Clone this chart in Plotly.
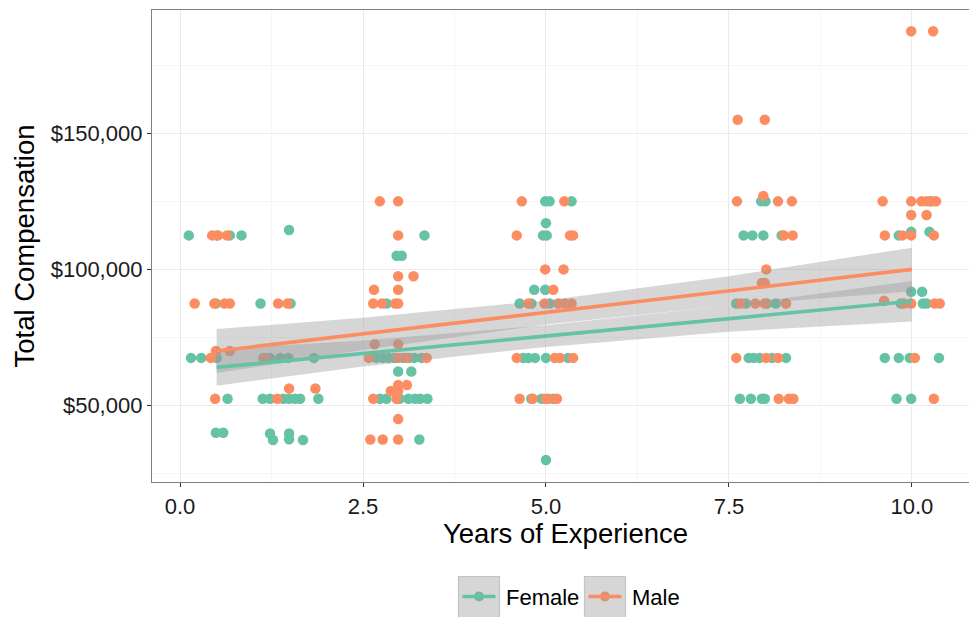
import plotly.graph_objects as go

# Jittered observations: years of experience vs. total compensation
female_x = [0.12, 0.50, 0.68, 0.84, 0.49, 0.15, 0.29, 0.50, 0.65, 0.49, 0.59,
            1.49, 1.10, 1.51, 1.14, 1.23, 1.37, 1.48, 1.83,
            1.13, 1.23, 1.41, 1.49, 1.57, 1.64, 1.89, 1.23, 1.27, 1.49, 1.49, 1.68,
            3.34, 2.96, 3.03, 2.82, 2.68, 2.77, 2.85, 2.93, 3.05, 3.13, 3.20, 3.30,
            2.98, 3.16, 2.73, 2.82, 3.00, 3.12, 3.21, 3.28, 3.38, 3.27,
            4.99, 5.05, 5.35, 5.00, 4.96, 5.01, 4.84, 4.99, 4.64, 4.80, 5.05,
            4.69, 4.76, 4.85, 5.00, 5.30, 4.80, 4.94, 5.10, 5.00,
            7.94, 8.00, 7.70, 7.82, 7.97, 8.22, 7.60, 7.73, 8.02, 8.14,
            7.77, 7.84, 7.92, 8.09, 8.28, 7.65, 7.80, 7.95, 7.99,
            10.25, 9.82, 9.99, 10.24, 9.99, 10.14, 9.85, 10.15, 10.20,
            9.63, 9.82, 9.97, 10.37, 9.79, 9.99]
female_y = [112500, 112500, 112500, 112500, 87500, 67500, 67500, 67500, 52500, 40000, 40000,
            114500, 87500, 87500, 67500, 67500, 67500, 67500, 67500,
            52500, 52500, 52500, 52500, 52500, 52500, 52500, 39700, 37300, 39700, 37600, 37300,
            112500, 105000, 105000, 87500, 67500, 67500, 67500, 67500, 67500, 67500, 67500, 67500,
            62500, 62500, 52500, 52500, 52500, 52500, 52500, 52500, 52500, 37500,
            125000, 125000, 125000, 117000, 112500, 112500, 92500, 92500, 87500, 87500, 87500,
            67500, 67500, 67500, 67500, 67500, 52500, 52500, 52500, 30000,
            125000, 125000, 112500, 112500, 112500, 112500, 87500, 87500, 87500, 87500,
            67500, 67500, 67500, 67500, 67500, 52500, 52500, 52500, 52500,
            125000, 112500, 113800, 113800, 91800, 91800, 87500, 87500, 87500,
            67500, 67500, 67500, 67500, 52500, 52500]

male_x = [0.44, 0.52, 0.64, 0.20, 0.47, 0.61, 0.68, 0.49, 0.68, 0.42, 0.48,
          1.34, 1.47, 1.16, 1.49, 1.85, 1.33,
          2.73, 2.98, 2.98, 2.98, 3.19, 2.65, 2.98, 2.64, 2.76, 2.94, 2.98,
          2.66, 2.98, 2.58, 2.98, 3.10, 3.37, 2.98, 3.10, 2.88, 2.98,
          2.64, 2.96, 2.98, 2.60, 2.77, 2.98,
          4.67, 5.25, 4.60, 5.33, 5.37, 4.99, 5.24, 5.10,
          4.76, 4.98, 5.17, 5.26, 5.35, 4.60, 5.12, 5.19, 5.37,
          4.64, 4.82, 5.00, 5.03, 5.15,
          7.62, 7.99, 7.61, 7.97, 8.17, 8.36, 8.25, 8.37, 8.01, 7.95, 7.99,
          7.66, 7.86, 7.99, 8.28, 7.60, 8.01, 8.17, 8.18, 8.32, 8.38,
          9.99, 10.29, 9.60, 9.99, 10.13, 10.20, 10.27, 10.33, 9.99, 10.20,
          9.63, 9.87, 9.99, 10.30, 9.62, 9.89, 9.99, 10.31, 10.38, 10.04, 10.30]
male_y = [112500, 112500, 112500, 87500, 87500, 87500, 87500, 70000, 70000, 67500, 52500,
          87500, 87500, 67500, 56250, 56250, 52500,
          125000, 125000, 112500, 97500, 97500, 92500, 92500, 87500, 87500, 87500, 87500,
          72500, 72500, 67500, 67500, 67500, 67500, 57500, 57500, 55300, 55300,
          52500, 52500, 45000, 37500, 37500, 37500,
          125000, 125000, 112500, 112500, 112500, 100000, 100000, 92500,
          87500, 87500, 87500, 87500, 87500, 67500, 67500, 67500, 67500,
          52500, 52500, 52500, 52500, 52500,
          155000, 155000, 125000, 127000, 125000, 125000, 112500, 112500, 100000, 95000, 95000,
          87500, 87500, 87500, 87500, 67500, 67500, 67500, 52500, 52500, 52500,
          187500, 187500, 125000, 125000, 125000, 125000, 125000, 125000, 120000, 120000,
          112500, 112500, 112500, 112500, 88500, 87500, 87500, 87500, 87500, 67500, 52500]

# Linear fits with standard-error bands, sampled along experience
band_x = [0.5, 2.5, 5.0, 7.5, 10.0]
female_fit = [64000, 69100, 75500, 81900, 88300]
female_lo = [57300, 64300, 71500, 77100, 80900]
female_hi = [70700, 73900, 79500, 86700, 95700]
male_fit = [70000, 76300, 84200, 92100, 100000]
male_lo = [61900, 70400, 79800, 86700, 92000]
male_hi = [78100, 82200, 88600, 97500, 108000]

groups = ["Female", "Male"]
colors = {"Female": "#66c2a5", "Male": "#fc8d62"}
key_dot = {"Female": "#7ab2a0", "Male": "#d49278"}

x_ticks = [0, 2.5, 5, 7.5, 10]
x_tick_text = ["0.0", "2.5", "5.0", "7.5", "10.0"]
y_ticks = [50000, 100000, 150000]

FONT = "Liberation Sans, Arial, Helvetica, sans-serif"
W, H = 969, 617
M_L, M_R, M_T, M_B = 152, 0, 10, 135

fig = go.Figure()

points = {"Female": (female_x, female_y), "Male": (male_x, male_y)}
bands = {"Female": (female_lo, female_hi, female_fit), "Male": (male_lo, male_hi, male_fit)}

for g in groups:
    xs, ys = points[g]
    fig.add_trace(go.Scatter(x=xs, y=ys, mode="markers", name=g, showlegend=False,
                             marker=dict(size=10.5, color=colors[g], line=dict(width=0)),
                             hoverinfo="x+y+name"))

for g in groups:
    lo, hi, _ = bands[g]
    fig.add_trace(go.Scatter(x=band_x + band_x[::-1], y=hi + lo[::-1], mode="lines",
                             fill="toself", fillcolor="rgba(153,153,153,0.4)",
                             line=dict(width=0), showlegend=False, hoverinfo="skip"))

for g in groups:
    _, _, fit = bands[g]
    fig.add_trace(go.Scatter(x=band_x, y=fit, mode="lines", name=g, showlegend=False,
                             line=dict(color=colors[g], width=3.6)))

# Legend keys and x title placed in paper space below the panel
plot_w = W - M_L - M_R
plot_h = H - M_T - M_B


def px_x(px):
    return (px - M_L) / plot_w


def px_y(py):
    return (H - M_B - py) / plot_h


shapes = []
annotations = []
key_left = {"Female": 458.5, "Male": 584.5}
for g in groups:
    x0 = key_left[g]
    shapes.append(dict(type="rect", xref="paper", yref="paper",
                       x0=px_x(x0), x1=px_x(x0 + 41), y0=px_y(576.5), y1=px_y(617.5),
                       fillcolor="#d6d6d6", line=dict(color="#c4c4c4", width=1.2), layer="above"))
    shapes.append(dict(type="circle", xref="paper", yref="paper",
                       x0=px_x(x0 + 15.5), x1=px_x(x0 + 25.5), y0=px_y(591.5), y1=px_y(601.5),
                       fillcolor=key_dot[g], line=dict(width=0), layer="above"))
    shapes.append(dict(type="line", xref="paper", yref="paper",
                       x0=px_x(x0 + 4), x1=px_x(x0 + 37), y0=px_y(596.5), y1=px_y(596.5),
                       line=dict(color=colors[g], width=3.6), layer="above"))
    annotations.append(dict(text=g, xref="paper", yref="paper", x=px_x(x0 + 45), y=px_y(597),
                            xanchor="left", yanchor="middle", showarrow=False,
                            font=dict(family=FONT, size=22, color="#000000")))

annotations.append(dict(text="Years of Experience", xref="paper", yref="paper",
                        x=px_x(565.5), y=px_y(533), xanchor="center", yanchor="middle",
                        showarrow=False, font=dict(family=FONT, size=27.5, color="#000000")))

fig.update_layout(
    width=W, height=H,
    margin=dict(l=M_L, r=M_R, t=M_T, b=M_B, pad=0),
    paper_bgcolor="white", plot_bgcolor="white",
    font=dict(family=FONT, size=22, color="#000000"),
    showlegend=False,
    shapes=shapes,
    annotations=annotations,
    xaxis=dict(
        range=[-0.383, 10.78], tickvals=x_ticks, ticktext=x_tick_text,
        showgrid=True, gridcolor="#ebebeb", gridwidth=1.1,
        minor=dict(dtick=1.25, tick0=0, showgrid=True, gridcolor="#f5f5f5", gridwidth=1.1),
        zeroline=False, showline=True, linecolor="#7f7f7f", linewidth=1.3, mirror=True,
        ticks="outside", ticklen=4, tickcolor="#333333", tickwidth=1.1,
        tickfont=dict(family=FONT, size=22, color="#1a1a1a"),
    ),
    yaxis=dict(
        range=[21900, 195300], tickvals=y_ticks, tickformat="$,",
        showgrid=True, gridcolor="#ebebeb", gridwidth=1.1,
        minor=dict(dtick=25000, tick0=0, showgrid=True, gridcolor="#f5f5f5", gridwidth=1.1),
        zeroline=False, showline=True, linecolor="#7f7f7f", linewidth=1.3, mirror=False,
        ticks="outside", ticklen=4, tickcolor="#333333", tickwidth=1.1,
        tickfont=dict(family=FONT, size=22, color="#1a1a1a"),
        title=dict(text="Total Compensation", font=dict(family=FONT, size=27.5, color="#000000"),
                   standoff=8),
    ),
)

fig.write_html("out.html")
